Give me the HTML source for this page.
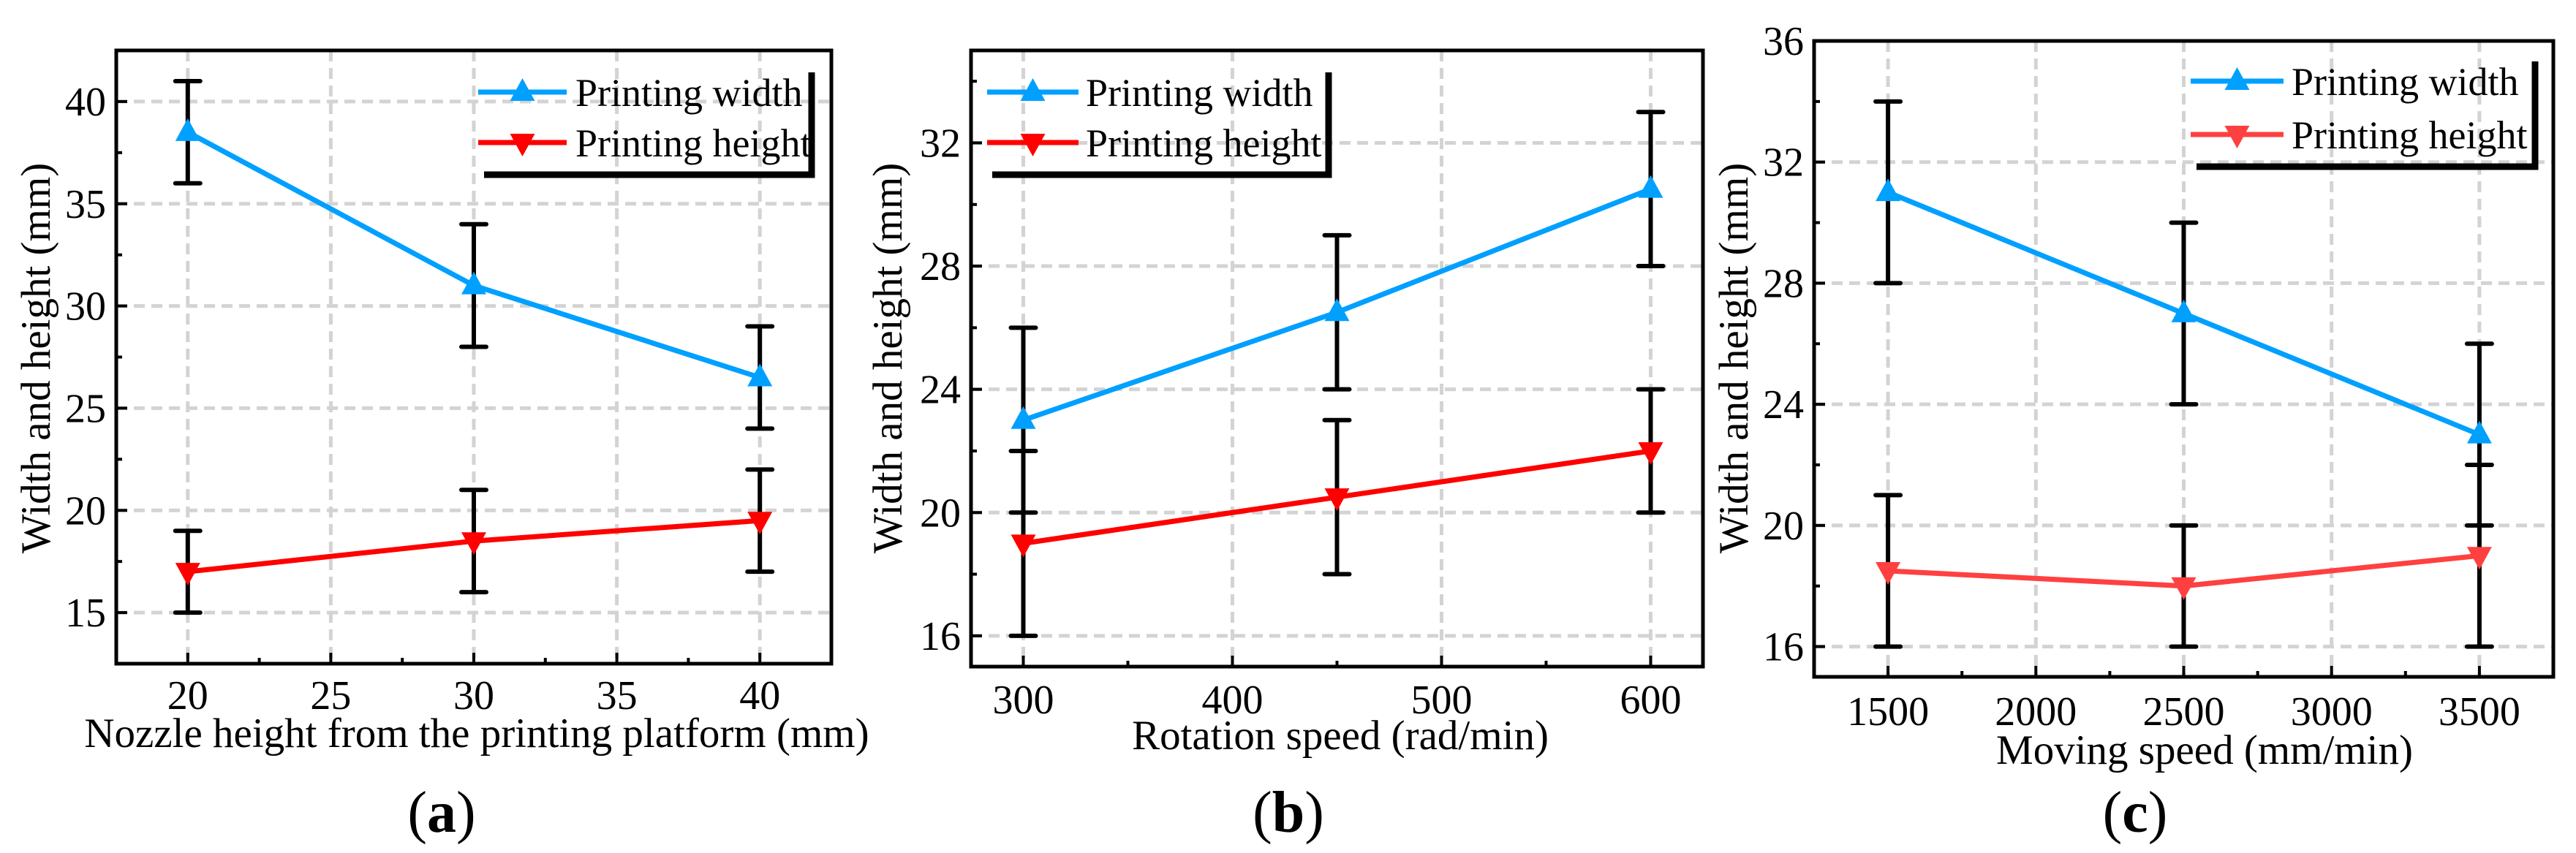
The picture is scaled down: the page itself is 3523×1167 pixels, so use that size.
<!DOCTYPE html>
<html><head><meta charset="utf-8"><style>
html,body{margin:0;padding:0;background:#fff;}
svg{display:block;font-family:"Liberation Serif",serif;}
</style></head><body>
<svg id="fig" width="3523" height="1167" viewBox="0 0 3523 1167" xmlns="http://www.w3.org/2000/svg"></svg>
<script>
// Panel (a)
const catsA = [20, 30, 40];
const widthA = [38.5, 31, 26.5];
const widthErrA = [2.5, 3, 2.5];
const heightA = [17, 18.5, 19.5];
const heightErrA = [2, 2.5, 2.5];
const xTicksA = [20, 25, 30, 35, 40];
const yTicksA = [15, 20, 25, 30, 35, 40];
// Panel (b)
const catsB = [300, 450, 600];
const widthB = [23, 26.5, 30.5];
const widthErrB = [3, 2.5, 2.5];
const heightB = [19, 20.5, 22];
const heightErrB = [3, 2.5, 2];
const xTicksB = [300, 400, 500, 600];
const yTicksB = [16, 20, 24, 28, 32];
// Panel (c)
const catsC = [1500, 2500, 3500];
const widthC = [31, 27, 23];
const widthErrC = [3, 3, 3];
const heightC = [18.5, 18, 19];
const heightErrC = [2.5, 2, 3];
const xTicksC = [1500, 2000, 2500, 3000, 3500];
const yTicksC = [16, 20, 24, 28, 32, 36];

const NS = "http://www.w3.org/2000/svg";
const svg = document.getElementById('fig');
function mk(tag, attrs, parent, text) {
  const e = document.createElementNS(NS, tag);
  for (const k in attrs) e.setAttribute(k, attrs[k]);
  if (text !== undefined) e.textContent = text;
  (parent || svg).appendChild(e);
  return e;
}

function panel(o) {
  const g = mk('g', {});
  
  
  const X = v => o.L + (v - o.xmin) / (o.xmax - o.xmin) * (o.R - o.L);
  const Y = v => o.B - (v - o.ymin) / (o.ymax - o.ymin) * (o.B - o.T);
  o.xt.forEach(v => {
    const l = mk('line', {x1: X(v), x2: X(v), y1: o.T, y2: o.B, stroke: '#d3d3d3', 'stroke-width': 5, 'stroke-dasharray': '15 9'}, g);
    
    
  });
  o.yt.forEach(v => {
    const l = mk('line', {x1: o.L, x2: o.R, y1: Y(v), y2: Y(v), stroke: '#d3d3d3', 'stroke-width': 5, 'stroke-dasharray': '15 9'}, g);
    
    
  });
  for (let i = 0; i < o.xt.length - 1; i++) {
    const m = (o.xt[i] + o.xt[i + 1]) / 2;
    mk('line', {x1: X(m), x2: X(m), y1: o.B, y2: o.B - 8, stroke: '#000', 'stroke-width': 4}, g);
  }
  for (let i = 0; i < o.xt.length; i++) mk('line', {x1: X(o.xt[i]), x2: X(o.xt[i]), y1: o.B, y2: o.B - 15, stroke: '#000', 'stroke-width': 4}, g);
  const ystep = o.yt[1] - o.yt[0];
  for (let v = o.yt[0] - ystep / 2; v <= o.ymax; v += ystep / 2) {
    if (v < o.ymin) continue;
    const major = o.yt.includes(v);
    mk('line', {x1: o.L, x2: o.L + (major ? 15 : 8), y1: Y(v), y2: Y(v), stroke: '#000', 'stroke-width': 4}, g);
  }
  const f = mk('rect', {x: o.L, y: o.T, width: o.R - o.L, height: o.B - o.T, fill: 'none', stroke: '#000', 'stroke-width': 5}, g);
  
  
  o.xt.forEach(v => {
    const t = mk('text', {x: X(v), y: o.xlY, 'font-size': 56, 'text-anchor': 'middle'}, g, String(v));
    
    
  });
  o.yt.forEach(v => {
    const t = mk('text', {x: o.L - 14, y: Y(v) + 19, 'font-size': 56, 'text-anchor': 'end'}, g, String(v));
    
    
  });
  const xt = mk('text', {x: o.xTitleX, y: o.xTitleY, 'font-size': 57, 'text-anchor': 'middle'}, g, o.xTitle);
  
  
  const yt = mk('text', {x: 0, y: 0, 'font-size': 57, 'text-anchor': 'middle', transform: `translate(${o.yTitleX},${o.yTitleY}) rotate(-90)`}, g, 'Width and height (mm)');
  
  
  const pl = mk('text', {x: o.plX, y: 1138, 'font-size': 80, 'text-anchor': 'middle'}, g);
  
  
  mk('tspan', {}, pl, '(');
  mk('tspan', {'font-weight': 'bold'}, pl, o.id);
  mk('tspan', {}, pl, ')');

  const tri = (cx, cy, up) => up
    ? `${cx},${cy - 19} ${cx - 17},${cy + 12} ${cx + 17},${cy + 12}`
    : `${cx},${cy + 19} ${cx - 17},${cy - 12} ${cx + 17},${cy - 12}`;
  const series = [
    {vals: o.w, err: o.we, col: '#00a0ff', up: true, name: 'width'},
    {vals: o.h, err: o.he, col: o.red, up: false, name: 'height'}
  ];
  series.forEach(s => {
    const pts = o.cats.map((c, i) => X(c) + ',' + Y(s.vals[i])).join(' ');
    const ln = mk('polyline', {points: pts, fill: 'none', stroke: s.col, 'stroke-width': 7}, g);
    
    
  });
  series.forEach(s => {
    o.cats.forEach((c, i) => {
      const x = X(c), y1 = Y(s.vals[i] + s.err[i]), y2 = Y(s.vals[i] - s.err[i]);
      const eb = mk('path', {d: `M${x},${y1}V${y2}M${x - 17},${y1}H${x + 17}M${x - 17},${y2}H${x + 17}`, stroke: '#000', 'stroke-width': 6, fill: 'none', 'stroke-linecap': 'round'}, g);
      
      
    });
  });
  series.forEach(s => {
    o.cats.forEach((c, i) => {
      const m = mk('polygon', {points: tri(X(c), Y(s.vals[i]), s.up), fill: s.col}, g);
      
      
    });
  });
  const lg = mk('g', {}, g);
  
  
  const Lg = o.lg;
  mk('path', {d: `M${Lg.boxL},${Lg.bottom}H${Lg.right}V${Lg.top}`, stroke: '#000', 'stroke-width': 9, fill: 'none'}, lg);
  [[Lg.r1, 'Printing width', '#00a0ff', true], [Lg.r2, 'Printing height', o.red, false]].forEach(r => {
    const e = mk('g', {}, lg);
    
    
    mk('line', {x1: Lg.l1, x2: Lg.l2, y1: r[0], y2: r[0], stroke: r[2], 'stroke-width': 7}, e);
    mk('polygon', {points: tri((Lg.l1 + Lg.l2) / 2, r[0], r[3]), fill: r[2]}, e);
    mk('text', {x: Lg.tx, y: r[0] + 19, 'font-size': 54}, e, r[1]);
  });
}

panel({id: 'a', L: 159, R: 1137, T: 69, B: 908, xmin: 17.5, xmax: 42.5, ymin: 12.5, ymax: 42.5,
  xt: xTicksA, yt: yTicksA, cats: catsA, w: widthA, we: widthErrA, h: heightA, he: heightErrA, red: '#ff0000',
  xlY: 970, xTitle: 'Nozzle height from the printing platform (mm)', xTitleX: 652, xTitleY: 1022,
  yTitleX: 68, yTitleY: 490, plX: 604,
  lg: {boxL: 662, right: 1110, top: 99, bottom: 239, l1: 654, l2: 775, tx: 787, r1: 126, r2: 195}});
panel({id: 'b', L: 1328, R: 2329, T: 69, B: 912, xmin: 275, xmax: 625, ymin: 15, ymax: 35,
  xt: xTicksB, yt: yTicksB, cats: catsB, w: widthB, we: widthErrB, h: heightB, he: heightErrB, red: '#ff0000',
  xlY: 976, xTitle: 'Rotation speed (rad/min)', xTitleX: 1833, xTitleY: 1025,
  yTitleX: 1233, yTitleY: 490, plX: 1762,
  lg: {boxL: 1357, right: 1817, top: 99, bottom: 239, l1: 1350, l2: 1475, tx: 1485, r1: 126, r2: 195}});
panel({id: 'c', L: 2481, R: 3492, T: 56, B: 926, xmin: 1250, xmax: 3750, ymin: 15, ymax: 36,
  xt: xTicksC, yt: yTicksC, cats: catsC, w: widthC, we: widthErrC, h: heightC, he: heightErrC, red: '#ff4040',
  xlY: 992, xTitle: 'Moving speed (mm/min)', xTitleX: 3015, xTitleY: 1045,
  yTitleX: 2390, yTitleY: 490, plX: 2920,
  lg: {boxL: 3004, right: 3467, top: 84, bottom: 228, l1: 2996, l2: 3123, tx: 3134, r1: 111, r2: 184}});
</script>
</body></html>
